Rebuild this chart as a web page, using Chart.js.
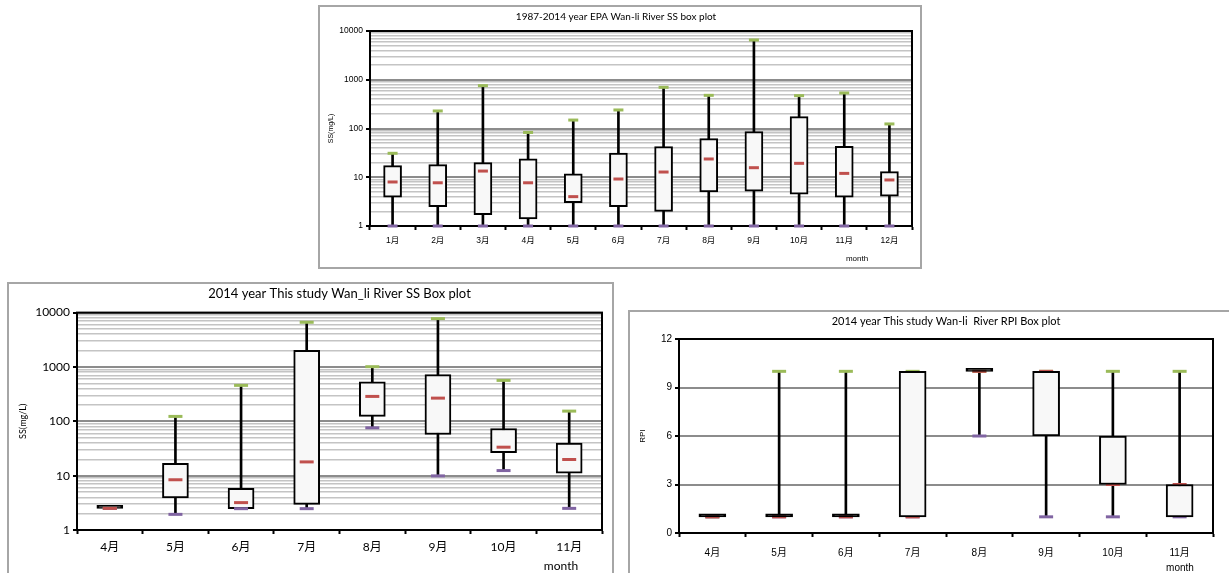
<!DOCTYPE html>
<html>
<head>
<meta charset="utf-8">
<script src="https://cdn.jsdelivr.net/npm/chart.js@4.4.1/dist/chart.umd.min.js"></script>
<style>
  body { margin: 0; background: #fff; width: 1229px; height: 573px; overflow: hidden; position: relative; }
  .frame { position: absolute; border: 2px solid #a6a6a6; box-sizing: border-box; }
  canvas { position: absolute; }
</style>
</head>
<body>
<div class="frame" style="left:318px;top:5px;width:604px;height:264px"></div>
<div class="frame" style="left:7px;top:282px;width:607px;height:300px"></div>
<div class="frame" style="left:628px;top:310px;width:610px;height:280px"></div>
<canvas id="epaChart" style="left:320px;top:7px" width="600" height="260"></canvas>
<canvas id="ssChart" style="left:9px;top:284px" width="603" height="289"></canvas>
<canvas id="rpiChart" style="left:630px;top:312px" width="599" height="261"></canvas>

<script>
const epaMonths = ["1月", "2月", "3月", "4月", "5月", "6月", "7月", "8月", "9月", "10月", "11月", "12月"];
const epaMin = [1, 1, 1, 1, 1, 1, 1, 1, 1, 1, 1, 1];
const epaQ1 = [3.9, 2.5, 1.7, 1.4, 3.0, 2.5, 2.0, 5.0, 5.2, 4.5, 3.9, 4.1];
const epaMedian = [8.0, 7.7, 13.4, 7.7, 4.0, 9.2, 12.8, 23.7, 15.7, 19.3, 12.0, 8.8];
const epaQ3 = [17.3, 18.1, 19.9, 24, 11.8, 31.4, 42.4, 61.9, 86, 175, 43, 13.0];
const epaMax = [31, 229, 757, 83, 149, 240, 699, 479, 6535, 472, 535, 124];

const studyMonths = ["4月", "5月", "6月", "7月", "8月", "9月", "10月", "11月"];
const ssMin = [2.5, 1.94, 2.47, 2.47, 75.9, 9.9, 12.4, 2.5];
const ssQ1 = [2.5, 3.89, 2.47, 2.97, 123, 57.2, 26.6, 11.1];
const ssMedian = [2.5, 8.4, 3.19, 17.9, 287, 267, 33.4, 19.8];
const ssQ3 = [2.5, 16.9, 5.86, 2022, 535, 720, 73.8, 39.6];
const ssMax = [2.5, 123, 458, 6637, 1011, 7748, 566, 154];

const rpiMin = [1, 1, 1, 1, 6, 1, 1, 1];
const rpiQ1 = [1, 1, 1, 1, 10, 6, 3, 1];
const rpiMedian = [1, 1, 1, 1, 10, 10, 3, 3];
const rpiQ3 = [1, 1, 1, 10, 10, 10, 6, 3];
const rpiMax = [1, 10, 10, 10, 10, 10, 10, 10];

const logDecades = [1, 10, 100, 1000];
const logSteps = [1, 2, 3, 4, 5, 6, 7, 8, 9];
const logTicks = logDecades.flatMap((d) => logSteps.map((s) => s * d)).concat([10000]);

const GREEN = "#9bbb59";
const RED = "#c0504d";
const PURPLE = "#8064a2";
const CJK = '"Noto Sans CJK SC"';

Chart.defaults.color = "#000";
Chart.defaults.animation = false;

const isDecade = (v) => Math.abs(Math.log10(v) - Math.round(Math.log10(v))) < 1e-9;

const plotFrame = {
  id: "plotFrame",
  beforeDatasetsDraw(chart) {
    const { ctx, chartArea: a } = chart;
    ctx.save();
    ctx.strokeStyle = "#000";
    ctx.lineWidth = 2;
    ctx.strokeRect(a.left, a.top, a.right - a.left, a.bottom - a.top);
    ctx.restore();
  },
};

const monthLabel = {
  id: "monthLabel",
  afterDraw(chart, args, opts) {
    const { ctx, chartArea } = chart;
    ctx.save();
    ctx.font = opts.font;
    ctx.fillStyle = "#000";
    ctx.textAlign = "center";
    ctx.textBaseline = "middle";
    ctx.fillText("month", chartArea.right - opts.dx, chartArea.bottom + opts.dy);
    ctx.restore();
  },
};

function marker(values, color, radius, width, order) {
  return {
    type: "line",
    data: values,
    showLine: false,
    pointStyle: "line",
    pointRadius: radius,
    pointHoverRadius: radius,
    pointBorderWidth: width,
    pointBorderColor: color,
    borderColor: color,
    clip: false,
    order: order,
  };
}

function boxChart(id, o) {
  const datasets = [
    {
      type: "bar",
      data: o.min.map((v, i) => [v, o.max[i]]),
      backgroundColor: "#000",
      borderWidth: 0,
      barThickness: 2,
      grouped: false,
      order: 5,
    },
    {
      type: "bar",
      data: o.q1.map((v, i) => [v, o.q3[i]]),
      // a box with no height shows as a solid black bar
      backgroundColor: o.q1.map((v, i) => (v === o.q3[i] ? "#000" : "#f8f8f8")),
      borderColor: "#000",
      borderWidth: 2,
      borderSkipped: false,
      barThickness: o.boxWidth,
      minBarLength: 3,
      grouped: false,
      order: o.boxOnTop ? 0 : 4,
    },
    marker(o.max, GREEN, o.cap, o.capWidth, 3),
    marker(o.min, PURPLE, o.cap, o.capWidth, 2),
    marker(o.median, RED, o.cap, o.capWidth, 1),
  ];

  const yGrid = o.log
    ? {
        color: (c) => (c.tick && isDecade(c.tick.value) ? "#8c8c8c" : "#c4c4c4"),
        lineWidth: (c) => (c.tick && isDecade(c.tick.value) ? 2 : 1.5),
        tickColor: (c) => (c.tick && isDecade(c.tick.value) ? "#000" : "rgba(0,0,0,0)"),
        tickLength: 4,
        tickWidth: 2,
      }
    : { color: "#8c8c8c", lineWidth: 2, tickColor: "#000", tickLength: 4, tickWidth: 2 };

  const y = o.log
    ? {
        type: "logarithmic",
        min: 1,
        max: 10000,
        afterBuildTicks: (s) => {
          s.ticks = logTicks.map((v) => ({ value: v, major: isDecade(v) }));
        },
        ticks: { autoSkip: false, font: o.tickFont, callback: (v) => (isDecade(v) ? String(v) : "") },
      }
    : { type: "linear", min: 0, max: 12, ticks: { stepSize: 3, font: o.tickFont } };

  return new Chart(document.getElementById(id), {
    type: "bar",
    data: { labels: o.labels, datasets: datasets },
    options: {
      responsive: false,
      events: [],
      layout: { padding: { left: 0, right: o.padRight, top: 0, bottom: 0 } },
      plugins: {
        legend: { display: false },
        tooltip: { enabled: false },
        title: {
          display: true,
          text: o.title,
          fullSize: o.titleFull,
          font: o.titleFont,
          padding: o.titlePad,
        },
        monthLabel: o.month,
      },
      scales: {
        x: {
          offset: true,
          grid: { drawOnChartArea: false, drawTicks: true, tickLength: 4, tickWidth: 2, tickColor: "#000", offset: true },
          border: { display: true, color: "#000", width: 2 },
          ticks: { font: o.tickFont, padding: o.xPad, maxRotation: 0 },
          afterFit: (s) => { s.height = o.xHeight; },
        },
        y: Object.assign(y, {
          grid: yGrid,
          border: { display: true, color: "#000", width: 2 },
          title: { display: true, text: o.yTitle, font: o.yTitleFont, padding: { top: o.yTitlePad, bottom: 0 } },
          afterFit: (s) => { s.width = o.yWidth; },
        }),
      },
    },
    plugins: [plotFrame, monthLabel],
  });
}

boxChart("epaChart", {
  labels: epaMonths, min: epaMin, q1: epaQ1, median: epaMedian, q3: epaQ3, max: epaMax,
  log: true,
  title: "1987-2014 year EPA Wan-li River SS box plot",
  titleFull: true,
  titleFont: { family: "Lato, " + CJK, size: 10, weight: "normal" },
  titlePad: { top: 4, bottom: 8 },
  tickFont: { family: '"Liberation Sans", ' + CJK, size: 8.5 },
  yTitle: "SS(mg/L)",
  yTitleFont: { family: '"Liberation Sans"', size: 7 },
  yTitlePad: 6.8,
  yWidth: 50, xHeight: 41, padRight: 8, xPad: 6,
  boxWidth: 18, cap: 5, capWidth: 3,
  month: { font: '8px "Liberation Sans"', dx: 55, dy: 33 },
});

boxChart("ssChart", {
  labels: studyMonths, min: ssMin, q1: ssQ1, median: ssMedian, q3: ssQ3, max: ssMax,
  log: true,
  title: "2014 year This study Wan_li River SS Box plot",
  titleFull: false,
  titleFont: { family: "Lato, " + CJK, size: 13, weight: "normal" },
  titlePad: { top: 2, bottom: 11 },
  tickFont: { family: "Lato, " + CJK, size: 12 },
  yTitle: "SS(mg/L)",
  yTitleFont: { family: "Lato", size: 9 },
  yTitlePad: 8.6,
  yWidth: 68, xHeight: 43, padRight: 8, xPad: 6,
  boxWidth: 26, cap: 7, capWidth: 3,
  month: { font: '12px Lato', dx: 41, dy: 36 },
});

boxChart("rpiChart", {
  labels: studyMonths, min: rpiMin, q1: rpiQ1, median: rpiMedian, q3: rpiQ3, max: rpiMax,
  log: false,
  boxOnTop: true,
  title: "2014 year This study Wan-li  River RPI Box plot",
  titleFull: false,
  titleFont: { family: "Lato, " + CJK, size: 11, weight: "normal" },
  titlePad: { top: 2.4, bottom: 11.4 },
  tickFont: { family: '"Liberation Sans", ' + CJK, size: 10 },
  yTitle: "RPI",
  yTitleFont: { family: '"Liberation Sans"', size: 8 },
  yTitlePad: 8.2,
  yWidth: 49, xHeight: 40, padRight: 16, xPad: 10,
  boxWidth: 27, cap: 7, capWidth: 3,
  month: { font: '10px "Liberation Sans"', dx: 33, dy: 35 },
});
</script>
</body>
</html>
